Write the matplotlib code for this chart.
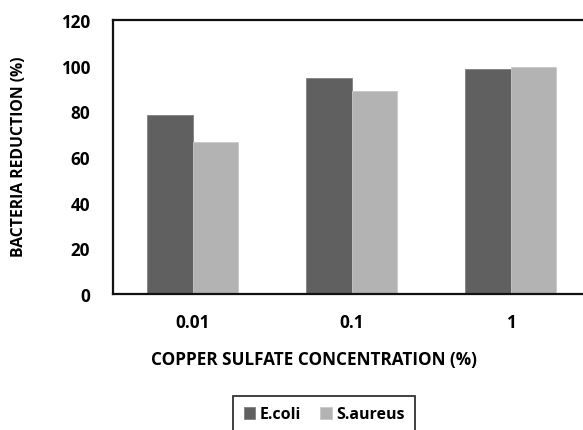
import matplotlib
matplotlib.use('Agg')
import matplotlib.pyplot as plt
import numpy as np

plt.rcParams.update({
    'font.family': ['Open Sans', 'DejaVu Sans'],
    'font.weight': 'bold',
    'font.size': 12,
})

concentrations = ['0.01', '0.1', '1']
ecoli = [78.3, 94.6, 98.7]
saureus = [66.6, 88.9, 99.3]

W, H = 583, 431
fig = plt.figure(figsize=(W / 100, H / 100), dpi=100)
ax = fig.add_axes([113 / W, 1 - 295 / H, 477 / W, 274 / H])

x = np.arange(len(concentrations))
bw = 0.285
ax.bar(x - bw / 2, ecoli, bw, color='#606060', edgecolor='#808080', linewidth=0.6, label='E.coli')
ax.bar(x + bw / 2, saureus, bw, color='#b3b3b3', edgecolor='#c8c8c8', linewidth=0.6, label='S.aureus')

ax.set_xlim(-0.5, 2.5)
ax.set_ylim(0, 120)
ax.set_yticks(np.arange(0, 121, 20))
ax.set_xticks(x)
ax.set_xticklabels(concentrations, fontsize=12.3, fontweight='bold')
ax.tick_params(axis='y', labelsize=12.3, length=0, pad=16.5)
ax.tick_params(axis='x', length=0, pad=14)
for lbl in ax.get_yticklabels():
    lbl.set_fontweight('bold')

for s in ax.spines.values():
    s.set_linewidth(1.6)
    s.set_color('#111111')

ax.set_xlabel('COPPER SULFATE CONCENTRATION (%)', fontsize=12.3, fontweight='bold')
ax.set_ylabel('BACTERIA REDUCTION (%)', fontsize=11.3, fontweight='bold')
ax.xaxis.set_label_coords((314 - 113) / 477, -(360 - 295) / 274)
ax.yaxis.set_label_coords(-(113 - 19) / 477, (295 - 157) / 274)
ax.xaxis.label.set_va('center')
ax.yaxis.label.set_va('center')

leg = fig.legend(loc='upper center', bbox_to_anchor=(324 / W, 1 - 397 / H), ncol=2,
                 frameon=True, fancybox=False, edgecolor='black', handlelength=0.75,
                 handleheight=0.75, handletextpad=0.25, columnspacing=1.2,
                 borderpad=0.65, borderaxespad=0.0,
                 prop={'weight': 'bold', 'size': 11.5})
leg.get_frame().set_linewidth(1.3)

fig.savefig('out.png', dpi=100)
